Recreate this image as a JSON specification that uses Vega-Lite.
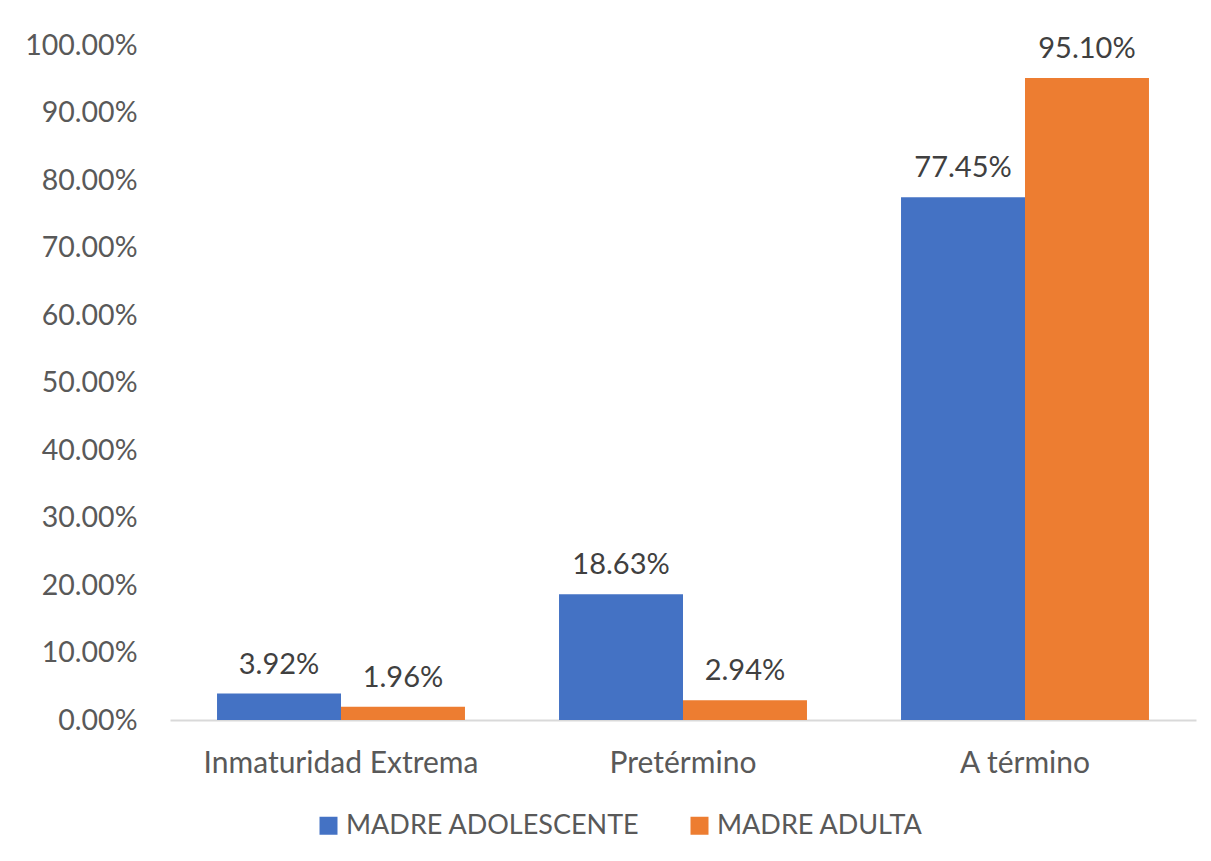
{
  "$schema": "https://vega.github.io/schema/vega-lite/v6.json",
  "width": 1026,
  "height": 675,
  "autosize": {"type": "none"},
  "padding": {"left": 170, "top": 45, "right": 15, "bottom": 141},
  "background": "white",
  "config": {
    "view": {"stroke": null},
    "font": "Lato"
  },
  "data": {
    "values": [
      {"categoria": "Inmaturidad Extrema", "grupo": "MADRE ADOLESCENTE", "valor": 0.0392},
      {"categoria": "Inmaturidad Extrema", "grupo": "MADRE ADULTA", "valor": 0.0196},
      {"categoria": "Pretérmino", "grupo": "MADRE ADOLESCENTE", "valor": 0.1863},
      {"categoria": "Pretérmino", "grupo": "MADRE ADULTA", "valor": 0.0294},
      {"categoria": "A término", "grupo": "MADRE ADOLESCENTE", "valor": 0.7745},
      {"categoria": "A término", "grupo": "MADRE ADULTA", "valor": 0.951}
    ]
  },
  "encoding": {
    "x": {
      "field": "categoria",
      "type": "nominal",
      "sort": ["Inmaturidad Extrema", "Pretérmino", "A término"],
      "scale": {"paddingInner": 0.275, "paddingOuter": 0.1375},
      "axis": {
        "title": null,
        "labelAngle": 0,
        "labelFontSize": 30,
        "labelColor": "#595959",
        "labelPadding": 28,
        "labelLimit": 500,
        "ticks": false,
        "domainColor": "#d9d9d9",
        "domainWidth": 2
      }
    },
    "xOffset": {
      "field": "grupo",
      "type": "nominal",
      "sort": ["MADRE ADOLESCENTE", "MADRE ADULTA"]
    },
    "y": {
      "field": "valor",
      "type": "quantitative",
      "scale": {"domain": [0, 1], "nice": false},
      "axis": {
        "title": null,
        "format": ".2%",
        "values": [0, 0.1, 0.2, 0.3, 0.4, 0.5, 0.6, 0.7, 0.8, 0.9, 1],
        "labelOverlap": false,
        "grid": false,
        "domain": false,
        "ticks": false,
        "labelFontSize": 28.5,
        "labelColor": "#595959",
        "labelPadding": 33
      }
    }
  },
  "layer": [
    {
      "mark": {"type": "bar"},
      "encoding": {
        "color": {
          "field": "grupo",
          "type": "nominal",
          "sort": ["MADRE ADOLESCENTE", "MADRE ADULTA"],
          "scale": {"domain": ["MADRE ADOLESCENTE", "MADRE ADULTA"], "range": ["#4472C4", "#ED7D31"]},
          "legend": {
            "title": null,
            "orient": "none",
            "legendX": 145,
            "legendY": 767,
            "direction": "horizontal",
            "symbolType": "square",
            "symbolSize": 324,
            "symbolStrokeWidth": 0,
            "labelFontSize": 27,
            "labelColor": "#595959",
            "labelLimit": 500,
            "columnPadding": 46,
            "labelOffset": 4
          }
        }
      }
    },
    {
      "mark": {"type": "text", "baseline": "alphabetic", "dy": -20, "fontSize": 29, "color": "#404040"},
      "encoding": {
        "text": {"field": "valor", "type": "quantitative", "format": ".2%"}
      }
    }
  ]
}
